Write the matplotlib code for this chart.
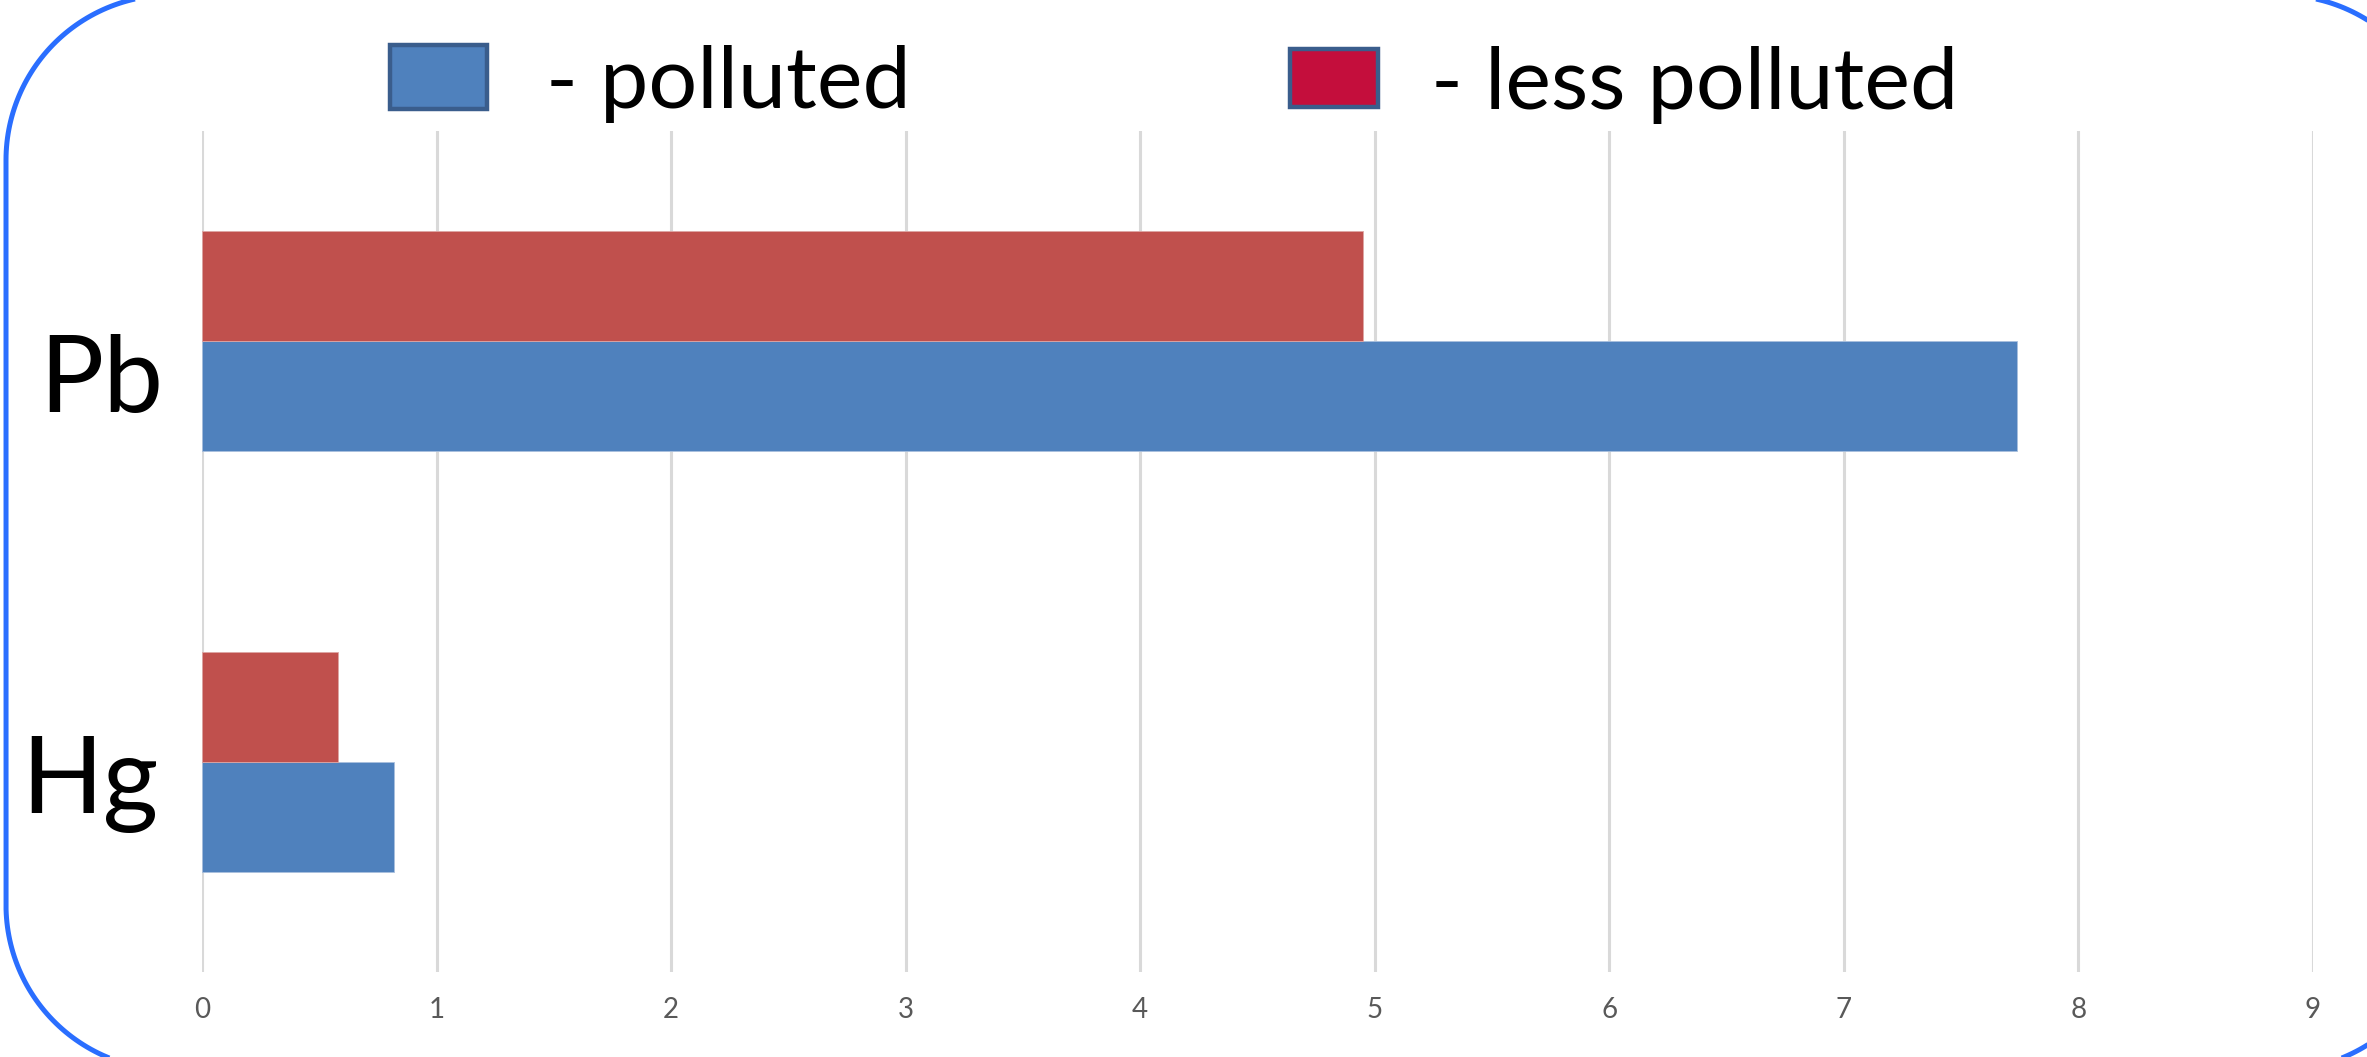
import matplotlib
matplotlib.use("Agg")
import matplotlib.pyplot as plt
from matplotlib.patches import Rectangle, PathPatch
from matplotlib.path import Path
from matplotlib.transforms import IdentityTransform, offset_copy
import numpy as np

plt.rcParams['font.family'] = ['Lato', 'DejaVu Sans']

# ---- data ----
categories = ["Hg", "Pb"]
polluted = [0.82, 7.74]
less_polluted = [0.58, 4.95]
series_labels = ["- polluted", "- less polluted"]
xticks = list(range(0, 10))

# ---- styles ----
c_polluted = "#4F81BD"
c_less = "#C0504D"
c_less_legend = "#C40E3C"
legend_edge = "#3A5D8C"
grid_c = "#D9D9D9"
tick_c = "#595959"

W, H = 2367, 1057
fig = plt.figure(figsize=(W / 100, H / 100), dpi=100)
fig.patch.set_facecolor("white")

ax_left, ax_right, ax_top, ax_bot = 202, 2313, 131, 972
ax = fig.add_axes([ax_left / W, 1 - ax_bot / H, (ax_right - ax_left) / W, (ax_bot - ax_top) / H])

y = np.arange(len(categories))
h = 0.261
ax.barh(y - h / 2, polluted, height=h, color=c_polluted, edgecolor="#A9C0DE", linewidth=0.6, zorder=3)
ax.barh(y + h / 2, less_polluted, height=h, color=c_less, edgecolor="#DDA6A4", linewidth=0.6, zorder=3)

ax.set_xlim(0, 9)
ax.set_ylim(-0.5, 1.5)
ax.set_xticks(xticks)
ax.set_xticklabels([str(t) for t in xticks], fontsize=20, color=tick_c)
ax.tick_params(axis="x", length=0, pad=18)
ax.set_yticks([])
ax.grid(axis="x", color=grid_c, linewidth=2.2, zorder=0)
ax.set_axisbelow(True)
for s in ax.spines.values():
    s.set_visible(False)

# category labels (placed per category relative to its data position)
label_offsets = {"Hg": (-43, -51), "Pb": (-39, -71)}
base_tr = ax.get_yaxis_transform()
for yi, cat in zip(y, categories):
    dx, dy = label_offsets[cat]
    tr = offset_copy(base_tr, fig=fig, x=dx, y=dy, units="dots")
    ax.text(0, yi, cat, transform=tr, ha="right", va="baseline", fontsize=77, color="black")

# legend (manual)
def px_rect(x0, y0, x1, y1, fc):
    r = Rectangle((x0, H - y1), x1 - x0, y1 - y0, transform=IdentityTransform(),
                  facecolor=fc, edgecolor=legend_edge, linewidth=3.2, zorder=5)
    fig.add_artist(r)

px_rect(390, 45, 487, 109, c_polluted)
px_rect(1290, 49, 1378, 107, c_less_legend)
fig.text(546, H - 108, series_labels[0], transform=IdentityTransform(), fontsize=62,
         ha="left", va="baseline", color="black")
fig.text(1431, H - 109, series_labels[1], transform=IdentityTransform(), fontsize=62,
         ha="left", va="baseline", color="black")

# rounded border (pixel coordinates, y measured from the bottom)
bx0, bx1 = 6, 2445
by0, by1 = H - 1070, H + 5
R = 165
def arc(cx, cy, a0, a1, n=60):
    t = np.radians(np.linspace(a0, a1, n))
    return np.column_stack([cx + R * np.cos(t), cy + R * np.sin(t)])
pts = np.vstack([
    arc(bx1 - R, by0 + R, -90, 0),
    arc(bx1 - R, by1 - R, 0, 90),
    arc(bx0 + R, by1 - R, 90, 180),
    arc(bx0 + R, by0 + R, 180, 270),
])
pts = np.vstack([pts, pts[:1]])
border = PathPatch(Path(pts, closed=False), transform=IdentityTransform(), facecolor="none",
                   edgecolor="#2A6EFF", linewidth=3.6, zorder=10)
fig.add_artist(border)

fig.savefig("out.png", dpi=100)
